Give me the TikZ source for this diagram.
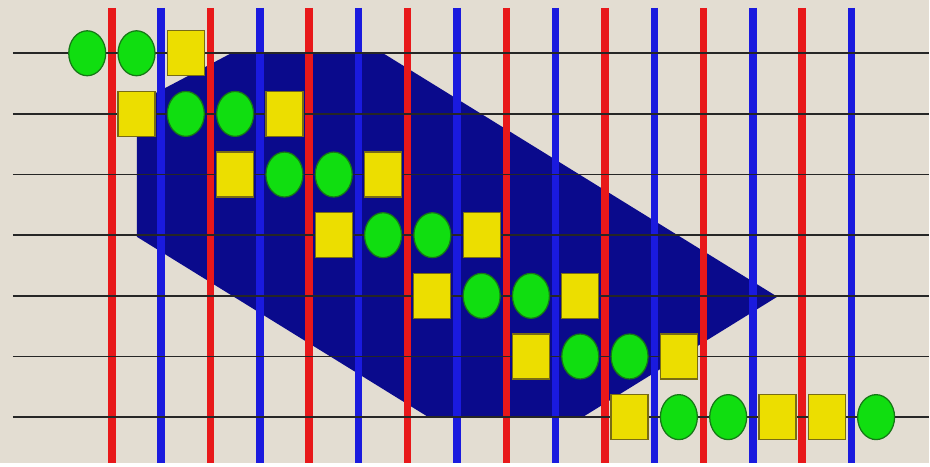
\documentclass[tikz,border=0pt]{standalone}
\usepackage{tikz}
\usepackage{xcolor}
\usetikzlibrary{shapes.geometric}

\definecolor{bgbeige}{RGB}{227,221,210}
\definecolor{navyband}{RGB}{10,10,140}
\definecolor{railred}{RGB}{232,24,26}
\definecolor{railblue}{RGB}{26,26,222}
\definecolor{dotgreen}{RGB}{16,222,16}
\definecolor{dotedge}{RGB}{22,120,22}
\definecolor{blkyellow}{RGB}{236,222,0}
\definecolor{blkedge}{RGB}{120,108,20}

\begin{document}
\begin{tikzpicture}[x=0.02cm,y=-0.02cm,
  dot/.style={ellipse, fill=dotgreen, draw=dotedge, line width=0.025cm, minimum width=0.74cm, minimum height=0.9cm, inner sep=0pt},
  blk/.style={rectangle, fill=blkyellow, draw=blkedge, line width=0.025cm, minimum width=0.74cm, minimum height=0.9cm, inner sep=0pt},
  rail/.style={line width=0.15cm},
  wire/.style={line width=0.035cm, draw=black!85}]
\fill[bgbeige] (0,0) rectangle (930,463);
% dark band behind the grid
\fill[navyband] (232,53) -- (383,53) -- (778,297) -- (584,417) -- (428,417) -- (137,237) -- (137,103) -- cycle;
% vertical rails
\foreach \k in {0,...,7} {
  \draw[rail, railred] ({112+98.7*\k},8) -- ({112+98.7*\k},463);
  \draw[rail, railblue] ({161.35+98.7*\k},8) -- ({161.35+98.7*\k},463);
}
% horizontal wires
\foreach \r in {0,...,6}
  \draw[wire] (13,{53.3+60.7*\r}) -- (930,{53.3+60.7*\r});
% circles
\foreach \r/\c in {0/0,0/1,1/2,1/3,2/4,2/5,3/6,3/7,4/8,4/9,5/10,5/11,6/12,6/13,6/16}
  \node[dot] (d\r-\c) at ({87.3+49.35*\c},{53.3+60.7*\r}) {};
% squares
\foreach \r/\c in {0/2,1/1,1/4,2/3,2/6,3/5,3/8,4/7,4/10,5/9,5/12,6/11,6/14,6/15}
  \node[blk] (b\r-\c) at ({87.3+49.35*\c},{53.3+60.7*\r}) {};
\end{tikzpicture}
\end{document}
